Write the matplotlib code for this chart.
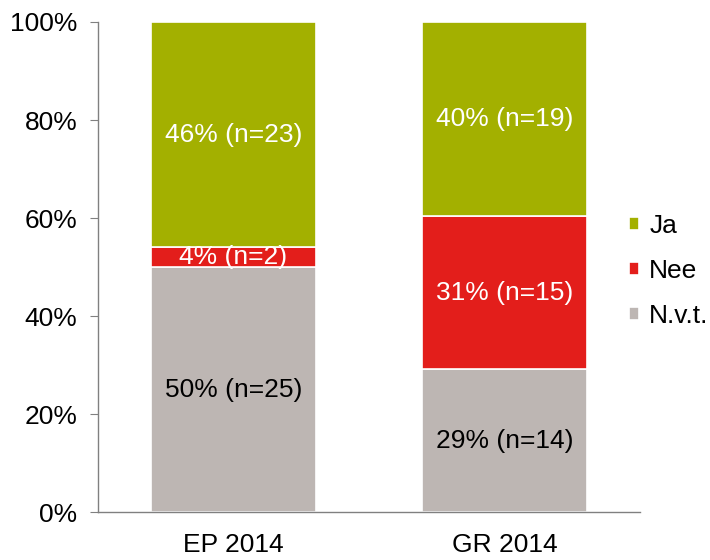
import matplotlib
matplotlib.use("Agg")
import matplotlib.pyplot as plt
from matplotlib.ticker import PercentFormatter
import numpy as np

plt.rcParams['font.family'] = ['Liberation Sans', 'DejaVu Sans']

categories = ["EP 2014", "GR 2014"]
series_names = ["N.v.t.", "Nee", "Ja"]
counts = {
    "N.v.t.": [25, 14],
    "Nee": [2, 15],
    "Ja": [23, 19],
}
colors = {"Ja": "#A3B000", "Nee": "#E31E1B", "N.v.t.": "#BDB6B3"}
label_colors = {"Ja": "white", "Nee": "white", "N.v.t.": "black"}
y_ticks = [0, 20, 40, 60, 80, 100]

totals = np.array([sum(counts[s][i] for s in series_names) for i in range(len(categories))])

fig = plt.figure(figsize=(7.1, 5.6), dpi=100)
ax = fig.add_axes([98 / 710, 1 - 512 / 560, 542 / 710, 490 / 560])

x = np.arange(len(categories))
bottom = np.zeros(len(categories))
handles = {}
for s in series_names:
    vals = np.array(counts[s]) / totals * 100
    bars = ax.bar(x, vals, width=0.61, bottom=bottom, color=colors[s],
                  edgecolor="white", linewidth=1.2, label=s)
    handles[s] = bars
    for xi, v, b, n in zip(x, vals, bottom, counts[s]):
        ax.text(xi, b + v / 2, f"{round(v):.0f}% (n={n})", ha="center", va="center",
                color=label_colors[s], fontsize=19)
    bottom += vals

ax.set_xlim(-0.5, 1.5)
ax.set_ylim(0, 100)
ax.set_yticks(y_ticks)
ax.yaxis.set_major_formatter(PercentFormatter(decimals=0))
ax.set_xticks(x)
ax.set_xticklabels(categories)
ax.tick_params(axis="y", labelsize=19, length=6, color="#808080", pad=9)
ax.tick_params(axis="x", labelsize=19, length=0, pad=15)
for side in ["top", "right"]:
    ax.spines[side].set_visible(False)
for side in ["left", "bottom"]:
    ax.spines[side].set_color("#808080")
    ax.spines[side].set_linewidth(1.0)

order = ["Ja", "Nee", "N.v.t."]
leg = fig.legend([handles[s] for s in order], order, loc="center left",
                 bbox_to_anchor=(605 / 710, 1 - 271 / 560), frameon=False,
                 fontsize=19, handlelength=0.38, handleheight=0.38,
                 handletextpad=0.4, labelspacing=0.8)

fig.savefig("out.png", dpi=100)
